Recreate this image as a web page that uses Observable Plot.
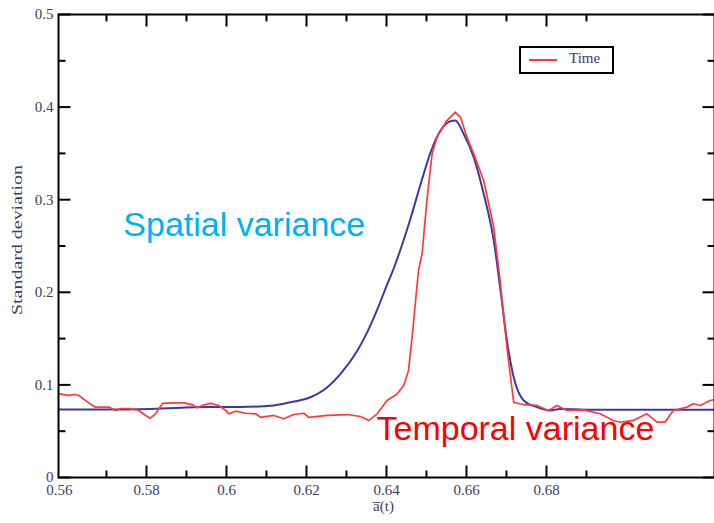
<!DOCTYPE html>
<html>
<head>
<meta charset="utf-8">
<script src="https://cdn.jsdelivr.net/npm/d3@7"></script>
<script src="https://cdn.jsdelivr.net/npm/@observablehq/plot@0.6"></script>
<style>
  html, body { margin: 0; padding: 0; background: #fff; }
  #wrap { position: relative; width: 714px; height: 523px; }
  #legend { position: absolute; left: 519px; top: 46px; width: 91px; height: 24px;
    border: 2px solid #000; background: #fff; font-family: "Liberation Serif", serif; font-size: 15px; color: #3d3d5c; }
  #legend .sw { position: absolute; left: 8px; top: 11px; width: 28px; height: 0; border-top: 2px solid #ff3a3a; }
  #legend .lb { position: absolute; left: 48px; top: 2px; }
</style>
</head>
<body>
<div id="wrap"><div id="legend"><span class="sw"></span><span class="lb">Time</span></div></div>
<script>
// ---- data ----
const temporalX = [0.5582,0.5606,0.5623,0.5631,0.5648,0.5665,0.5673,0.5706,0.5723,0.5736,0.5756,0.5781,0.5798,0.5810,0.5823,0.5840,0.5865,0.5894,0.5915,0.5927,0.5944,0.5960,0.5981,0.5998,0.6006,0.6023,0.6048,0.6073,0.6085,0.6118,0.6143,0.6168,0.6193,0.6206,0.6252,0.6302,0.6335,0.6356,0.6377,0.6401,0.6426,0.6443,0.6455,0.6464,0.6472,0.6480,0.6489,0.6501,0.6514,0.6526,0.6551,0.6572,0.6585,0.6601,0.6618,0.6643,0.6668,0.6684,0.6701,0.6718,0.6743,0.6776,0.6805,0.6826,0.6851,0.6892,0.6934,0.6967,0.6984,0.7017,0.7051,0.7076,0.7096,0.7117,0.7151,0.7167,0.7184,0.7209,0.7217];
const temporalY = [0.0904,0.0886,0.0896,0.0886,0.0830,0.0778,0.0760,0.0760,0.0724,0.0745,0.0745,0.0724,0.0670,0.0640,0.0690,0.0800,0.0806,0.0806,0.0785,0.0753,0.0785,0.0800,0.0778,0.0724,0.0688,0.0716,0.0694,0.0688,0.0650,0.0670,0.0634,0.0680,0.0694,0.0650,0.0670,0.0680,0.0659,0.0616,0.0688,0.0832,0.0900,0.0994,0.1156,0.1515,0.1876,0.2235,0.2416,0.2990,0.3496,0.3675,0.3855,0.3945,0.3890,0.3675,0.3496,0.3207,0.2703,0.2127,0.1407,0.0810,0.0788,0.0778,0.0724,0.0778,0.0724,0.0731,0.0688,0.0616,0.0597,0.0616,0.0688,0.0597,0.0597,0.0724,0.0760,0.0796,0.0778,0.0832,0.0840];
const spatialX = [0.5581,0.5686,0.5810,0.5952,0.6035,0.6118,0.6160,0.6210,0.6252,0.6285,0.6327,0.6352,0.6377,0.6401,0.6418,0.6435,0.6460,0.6485,0.6510,0.6535,0.6560,0.6572,0.6593,0.6618,0.6643,0.6668,0.6684,0.6701,0.6718,0.6743,0.6776,0.6809,0.6834,0.6934,0.7059,0.7219];
const spatialY = [0.0734,0.0734,0.0740,0.0760,0.0762,0.0778,0.0813,0.0867,0.0975,0.1120,0.1370,0.1570,0.1815,0.2078,0.2257,0.2462,0.2797,0.3164,0.3510,0.3747,0.3848,0.3855,0.3710,0.3460,0.3063,0.2560,0.2055,0.1480,0.1083,0.0832,0.0760,0.0724,0.0740,0.0731,0.0731,0.0731];
const xMajor = [0.5582,0.58,0.60,0.62,0.64,0.66,0.68];
const xTickLabels = ["0.56","0.58","0.6","0.62","0.64","0.66","0.68"];
const xMinor = [0.57,0.59,0.61,0.63,0.65,0.67,0.69];
const yMajor = [0,0.1,0.2,0.3,0.4,0.5];
const yTickLabels = ["0","0.1","0.2","0.3","0.4","0.5"];
const yMinor = [0.05,0.15,0.25,0.35,0.45];
const annotations = [
  {text: "Spatial variance", x: 0.5742, y: 0.2726, color: "#00b0f0"},
  {text: "Temporal variance", x: 0.6375, y: 0.0525, color: "#ff0000"}
];
// ---- layout ----
const W = 714, H = 523, ML = 58, MR = 0, MT = 14, MB = 46;
const xDomain = [0.558, 0.722], yDomain = [0, 0.5];
const majorLen = 12, minorLen = 7;
// tick lengths in pixels turned into scale units
const kx = (xDomain[1] - xDomain[0]) / (W - ML - MR);
const ky = (yDomain[1] - yDomain[0]) / (H - MT - MB);
function xTicks(vals, len) {
  return vals.flatMap(v => [
    {x1: v, x2: v, y1: yDomain[0], y2: yDomain[0] + len * ky},
    {x1: v, x2: v, y1: yDomain[1], y2: yDomain[1] - len * ky}
  ]);
}
function yTicks(vals, len) {
  return vals.flatMap(v => [
    {y1: v, y2: v, x1: xDomain[0], x2: xDomain[0] + len * kx},
    {y1: v, y2: v, x1: xDomain[1], x2: xDomain[1] - len * kx}
  ]);
}
const tickSegs = [
  ...xTicks(xMajor.slice(1), majorLen), ...xTicks(xMinor, minorLen),
  ...yTicks(yMajor, majorLen), ...yTicks(yMinor, minorLen)
];
// ---- build ----
const temporal = temporalX.map((x, i) => ({x, y: temporalY[i]}));
const spatial = spatialX.map((x, i) => ({x, y: spatialY[i]}));
const serif = "Liberation Serif";
const txt = "#3d3d5c";
const chart = Plot.plot({
  width: W, height: H,
  marginLeft: ML, marginRight: MR, marginTop: MT, marginBottom: MB,
  x: {domain: xDomain, axis: null},
  y: {domain: yDomain, axis: null},
  marks: [
    Plot.line(spatial, {x: "x", y: "y", stroke: "#3b3b9e", strokeWidth: 2, curve: "monotone-x"}),
    Plot.line(temporal, {x: "x", y: "y", stroke: "#ff3a3a", strokeWidth: 1.7}),
    Plot.link(tickSegs, {x1: "x1", y1: "y1", x2: "x2", y2: "y2", stroke: "#000", strokeWidth: 2}),
    Plot.axisX(xMajor, {anchor: "bottom", tickSize: 0, tickPadding: 7, tickFormat: (d, i) => xTickLabels[i], label: null, fontSize: 15, fontFamily: serif, fill: txt}),
    Plot.axisY(yMajor, {anchor: "left", tickSize: 0, tickPadding: 5, tickFormat: (d, i) => yTickLabels[i], label: null, fontSize: 15, fontFamily: serif, fill: txt}),
    Plot.frame({stroke: "#000", strokeWidth: 2}),
    Plot.text(["a\u0305(t)"], {frameAnchor: "bottom", textAnchor: "middle", dx: -3, dy: 33, fontSize: 15, fontFamily: serif, fill: txt}),
    Plot.text(["Standard deviation"], {frameAnchor: "left", textAnchor: "middle", dx: -41, dy: -6, rotate: -90, fontSize: 14, fontFamily: serif, fill: txt, className: "ytitle"}),
    Plot.text(annotations, {x: "x", y: "y", text: "text", fill: "color", textAnchor: "start", lineAnchor: "middle", fontSize: 34, fontFamily: "Liberation Sans"})
  ]
});
d3.select(chart).selectAll(".ytitle text").attr("textLength", 150).attr("lengthAdjust", "spacingAndGlyphs");
document.getElementById("wrap").prepend(chart);
</script>
</body>
</html>
